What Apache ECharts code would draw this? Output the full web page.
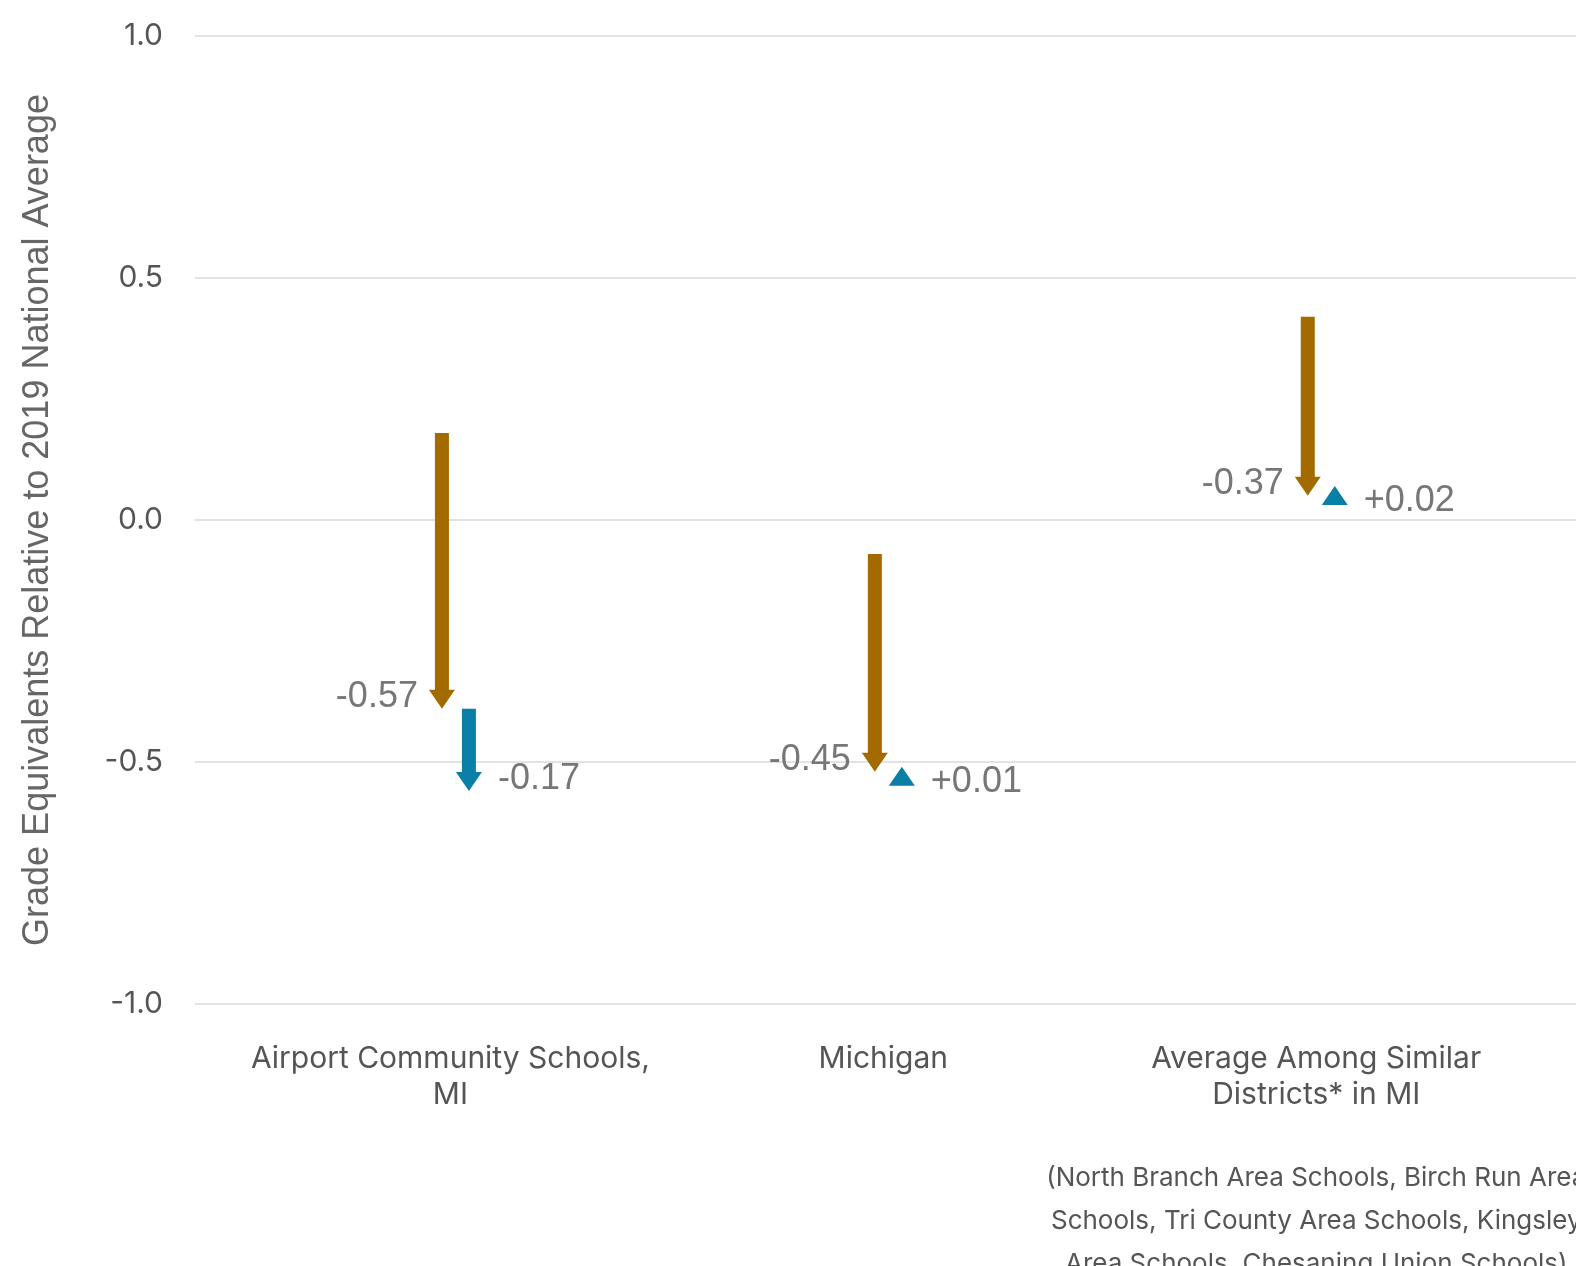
<!DOCTYPE html>
<html>
<head>
<meta charset="utf-8">
<script src="https://cdn.jsdelivr.net/npm/echarts@6/dist/echarts.min.js"></script>
<style>
html,body{margin:0;padding:0;background:#fff;}
#chart{width:1576px;height:1266px;}
</style>
</head>
<body>
<div id="chart"></div>
<script>
// ---- data ----
const categories = ['Airport Community Schools,\nMI', 'Michigan', 'Average Among Similar\nDistricts* in MI'];
const footnote = ['(North Branch Area Schools, Birch Run Area', 'Schools, Tri County Area Schools, Kingsley', 'Area Schools, Chesaning Union Schools)'];
const startValues = [0.18, -0.07, 0.42];
const firstChange = [-0.57, -0.45, -0.37];
const secondChange = [-0.17, 0.01, 0.02];
const yTicks = { min: -1, max: 1, interval: 0.5 };
const yAxisTitle = 'Grade Equivalents Relative to 2019 National Average';

const ORANGE = '#A36A00';
const BLUE = '#0A7FA6';
const r2 = v => Math.round(v * 1000) / 1000;

const orangeData = categories.map((c, i) => [i, startValues[i], r2(startValues[i] + firstChange[i]), firstChange[i]]);
const blueData = categories.map((c, i) => {
  const s = r2(startValues[i] + firstChange[i]);
  return [i, s, r2(s + secondChange[i]), secondChange[i]];
});

function fmtChange(v) {
  return (v > 0 ? '+' : '') + v.toFixed(2);
}

function makeRender(color, dx, side) {
  return function (params, api) {
    const i = api.value(0), s = api.value(1), e = api.value(2), ch = api.value(3);
    const p0 = api.coord([i, s]);
    const p1 = api.coord([i, e]);
    const x = p0[0] + dx;
    const y0 = p0[1], y1 = p1[1];
    const dir = y1 >= y0 ? 1 : -1;
    const headLen = 19, headHalf = 13, shaftHalf = 7;
    const baseY = y1 - dir * headLen;
    const children = [];
    if ((baseY - y0) * dir > 0) {
      children.push({
        type: 'rect',
        shape: { x: x - shaftHalf, y: Math.min(y0, baseY), width: shaftHalf * 2, height: Math.abs(baseY - y0) + 0.5 },
        style: { fill: color }
      });
    }
    children.push({
      type: 'polygon',
      shape: { points: [[x - headHalf, baseY], [x + headHalf, baseY], [x, y1]] },
      style: { fill: color }
    });
    const ly = dir === 1 ? y1 - 12 : y1 + 15;
    children.push({
      type: 'text',
      style: {
        text: fmtChange(ch),
        x: side === 'left' ? x - 24 : x + 29,
        y: ly,
        align: side === 'left' ? 'right' : 'left',
        verticalAlign: 'middle',
        fill: '#777777',
        font: '36px "Liberation Sans", Arial, sans-serif'
      }
    });
    return { type: 'group', children: children };
  };
}

const chart = echarts.init(document.getElementById('chart'));
chart.setOption({
  backgroundColor: '#ffffff',
  animation: false,
  grid: { left: 195, right: 0, top: 36, bottom: 262, containLabel: false, outerBoundsMode: 'none' },
  xAxis: {
    type: 'value',
    min: -0.59,
    max: 2.6,
    splitLine: { show: false },
    axisLine: { show: false },
    axisTick: { show: false },
    axisLabel: {
      customValues: [0, 1, 2],
      margin: 37,
      color: '#555555',
      fontFamily: 'Inter',
      fontSize: 30,
      lineHeight: 36,
      formatter: function (v) {
        const idx = Math.round(v);
        let lines = categories[idx].split('\n').map(l => '{a|' + l + '}');
        let txt = lines.join('\n');
        if (idx === 2) {
          txt += '\n{g|}\n' + footnote.map(l => '{f|' + l + '}').join('\n');
        }
        return txt;
      },
      rich: {
        a: { fontFamily: 'Inter', fontSize: 30, lineHeight: 36, color: '#555555' },
        g: { fontSize: 10, lineHeight: 44 },
        f: { fontFamily: 'Inter', fontSize: 26, lineHeight: 43, color: '#555555' }
      }
    }
  },
  yAxis: {
    type: 'value',
    min: yTicks.min,
    max: yTicks.max,
    interval: yTicks.interval,
    name: yAxisTitle,
    nameLocation: 'middle',
    nameGap: 139,
    nameTextStyle: { fontFamily: '"Liberation Sans", Arial, sans-serif', fontSize: 36, color: '#666666' },
    axisLine: { show: false },
    axisTick: { show: false },
    splitLine: { lineStyle: { color: '#e3e3e3', width: 2 } },
    axisLabel: {
      margin: 32,
      color: '#555555',
      fontFamily: 'Inter',
      fontSize: 30,
      formatter: v => v.toFixed(1)
    }
  },
  series: [
    { type: 'custom', name: 'first', renderItem: makeRender(ORANGE, -8.5, 'left'), data: orangeData, clip: false, z: 3 },
    { type: 'custom', name: 'second', renderItem: makeRender(BLUE, 18.5, 'right'), data: blueData, clip: false, z: 4 }
  ]
});
</script>
</body>
</html>
